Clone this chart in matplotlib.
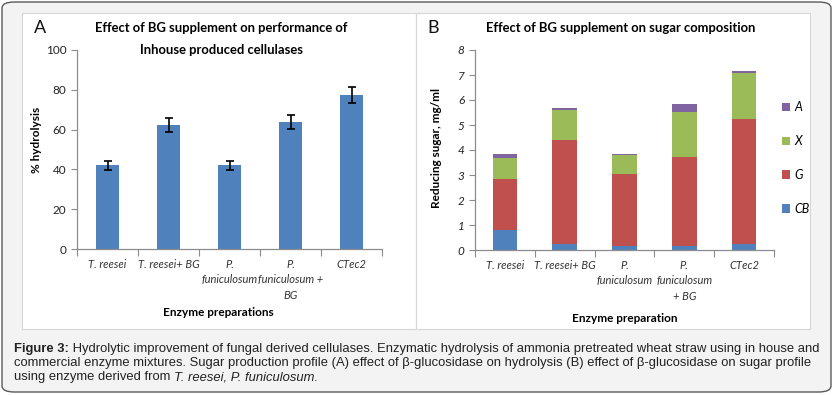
import matplotlib
matplotlib.use("Agg")
import matplotlib.pyplot as plt
import numpy as np
from matplotlib.patches import FancyBboxPatch, Rectangle, Patch

# data
categories_a = ["T. reesei", "T. reesei+ BG", "P.\nfuniculosum", "P.\nfuniculosum +\nBG", "CTec2"]
hydrolysis = [42, 62.3, 42, 63.8, 77.6]
hydrolysis_err = [2.2, 3.3, 2.2, 3.4, 4.0]

categories_b = ["T. reesei", "T. reesei+ BG", "P.\nfuniculosum", "P.\nfuniculosum\n+ BG", "CTec2"]
sugar_names = ["CB", "G", "X", "A"]
sugar_cb = [0.80, 0.25, 0.17, 0.17, 0.23]
sugar_g = [2.04, 4.15, 2.87, 3.54, 5.02]
sugar_x = [0.85, 1.20, 0.75, 1.81, 1.84]
sugar_a = [0.14, 0.09, 0.04, 0.31, 0.06]

blue, red, green, purple = "#4F81BD", "#C0504D", "#9BBB59", "#8064A2"
axis_col = "#8c8c8c"

plt.rcParams['font.family'] = ['Lato', 'DejaVu Sans']

W, H = 834, 395
fig = plt.figure(figsize=(W / 100, H / 100), dpi=100)
fig.patch.set_facecolor("white")

def fx(px):
    return px / W

def fy(py):
    return 1 - py / H

# outer rounded frame and white panels
fig.patches.append(FancyBboxPatch((fx(2), fy(392)), fx(829), 390 / H,
                                  boxstyle="round,pad=0,rounding_size=0.015",
                                  transform=fig.transFigure, facecolor="#f3f3f3",
                                  edgecolor="#5a5a5a", linewidth=1.0, zorder=-2))
for x0, x1 in [(22, 416), (416, 810)]:
    fig.patches.append(Rectangle((fx(x0), fy(329)), fx(x1 - x0), 316 / H,
                                 transform=fig.transFigure, facecolor="white",
                                 edgecolor="#d6d6d6", linewidth=0.8, zorder=-1))

def style_axes(ax, n):
    for s in ["top", "right"]:
        ax.spines[s].set_visible(False)
    for s in ["left", "bottom"]:
        ax.spines[s].set_color(axis_col)
        ax.spines[s].set_linewidth(0.9)
    ax.set_xlim(-0.5, n - 0.5)
    ax.set_xticks(np.arange(n + 1) - 0.5, minor=False)
    ax.tick_params(axis="x", which="major", length=5, color=axis_col, labelbottom=False)
    ax.set_xticks(np.arange(n), minor=True)
    ax.tick_params(axis="x", which="minor", length=0, pad=7)
    ax.tick_params(axis="y", length=4, color=axis_col, labelsize=8.5, labelcolor="#222222")
    ax.patch.set_alpha(0)

# panel A
axA = fig.add_axes([fx(77), fy(249), fx(305), 199 / H])
xa = np.arange(len(categories_a))
axA.bar(xa, hydrolysis, width=0.39, color=blue, zorder=2)
axA.errorbar(xa, hydrolysis, yerr=hydrolysis_err, fmt="none", ecolor="black",
             elinewidth=1.2, capsize=3, capthick=1.2, zorder=3)
axA.set_ylim(0, 100)
axA.set_yticks(range(0, 101, 20))
style_axes(axA, len(categories_a))
axA.set_xticklabels(categories_a, minor=True, fontstyle="italic", fontsize=8,
                    color="#333333", linespacing=1.5)

fig.text(fx(221), fy(28), "Effect of BG supplement on performance of", ha="center",
         va="center", fontsize=9.4, fontweight="bold")
fig.text(fx(221), fy(50), "Inhouse produced cellulases", ha="center",
         va="center", fontsize=9.4, fontweight="bold")
fig.text(fx(40), fy(28), "A", ha="center", va="center", fontsize=13, color="#111111")
fig.text(fx(36), fy(140), "% hydrolysis", rotation=90, ha="center", va="center",
         fontsize=8.5, fontweight="bold")
fig.text(fx(218), fy(313), "Enzyme preparations", ha="center", va="center",
         fontsize=8.5, fontweight="bold")

# panel B
axB = fig.add_axes([fx(475), fy(250), fx(299), 200 / H])
xb = np.arange(len(categories_b))
bottom = np.zeros(len(categories_b))
handles = []
for name, vals, col in zip(sugar_names, [sugar_cb, sugar_g, sugar_x, sugar_a],
                           [blue, red, green, purple]):
    axB.bar(xb, vals, bottom=bottom, width=0.41, color=col, zorder=2, linewidth=0)
    bottom += np.array(vals)
    handles.append(Patch(facecolor=col, label=name))
axB.set_ylim(0, 8)
axB.set_yticks(range(0, 9))
style_axes(axB, len(categories_b))
for t in axB.get_yticklabels():
    t.set_fontstyle("italic")
axB.set_xticklabels(categories_b, minor=True, fontstyle="italic", fontsize=8,
                    color="#333333", linespacing=1.5)
leg = axB.legend(handles[::-1], sugar_names[::-1], loc="center left",
                 bbox_to_anchor=(0.99, 0.46), frameon=False, handlelength=0.65,
                 handleheight=0.65, handletextpad=0.3, labelspacing=1.75,
                 prop={"style": "italic", "size": 9})

fig.text(fx(621), fy(28), "Effect of BG supplement on sugar composition", ha="center",
         va="center", fontsize=9.4, fontweight="bold")
fig.text(fx(433), fy(28), "B", ha="center", va="center", fontsize=13, color="#111111")
fig.text(fx(436), fy(148), "Reducing sugar, mg/ml", rotation=90, ha="center",
         va="center", fontsize=8.5, fontweight="bold")
fig.text(fx(625), fy(318), "Enzyme preparation", ha="center", va="center",
         fontsize=8.5, fontweight="bold")

# caption
cap_font = ["Liberation Sans", "DejaVu Sans"]
cap_size = 9.35

renderer = fig.canvas.get_renderer()

def put_runs(x_px, y_px, runs):
    x = x_px
    for txt, kw in runs:
        t = fig.text(fx(x), fy(y_px), txt, ha="left", va="center", family=cap_font,
                     fontsize=cap_size, color="#222222", **kw)
        bb = t.get_window_extent(renderer=renderer)
        x += bb.width

put_runs(14, 349, [("Figure 3:", {"fontweight": "bold"}),
                   (" Hydrolytic improvement of fungal derived cellulases. Enzymatic hydrolysis of ammonia pretreated wheat straw using in house and", {})])
put_runs(14, 363, [("commercial enzyme mixtures. Sugar production profile (A) effect of β-glucosidase on hydrolysis (B) effect of β-glucosidase on sugar profile", {})])
put_runs(14, 377, [("using enzyme derived from ", {}),
                   ("T. reesei, P. funiculosum.", {"fontstyle": "italic"})])

fig.savefig("out.png", dpi=100)
